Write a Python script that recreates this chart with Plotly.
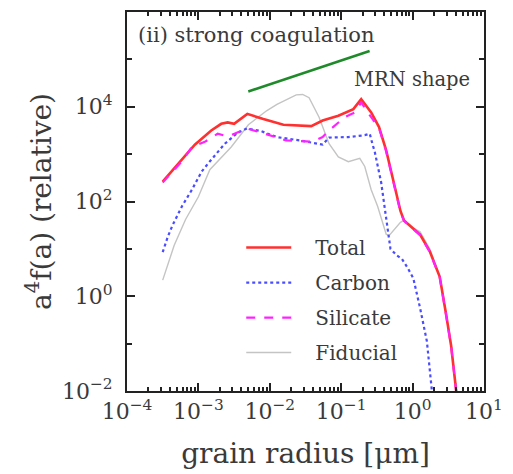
import numpy as np
import plotly.graph_objects as go

# log10 of grain radius [um] and log10 of a^4 f(a) for each population
total_logr = [-3.50, -3.23, -3.05, -2.82, -2.68, -2.59, -2.50, -2.315, -2.09, -1.81,
              -1.42, -1.26, -1.04, -0.83, -0.72, -0.58, -0.47, -0.37, -0.26, -0.17,
              -0.12, 0.0, 0.105, 0.24, 0.38, 0.47, 0.54, 0.61, 0.63]
total_logv = [2.42, 2.88, 3.20, 3.50, 3.64, 3.67, 3.64, 3.85, 3.74, 3.62,
              3.59, 3.71, 3.81, 3.95, 4.16, 3.88, 3.57, 3.08, 2.39, 1.80,
              1.60, 1.43, 1.30, 0.95, 0.41, -0.39, -1.05, -1.99, -2.30]

carbon_logr = [-3.50, -3.43, -3.365, -3.23, -3.09, -2.955, -2.86, -2.63, -2.45, -2.32,
               -2.13, -1.90, -1.585, -1.36, -1.26, -1.17, -0.90, -0.67, -0.60, -0.56,
               -0.53, -0.44, -0.35, -0.31, -0.22, -0.15, -0.07, 0.01, 0.105, 0.20,
               0.265, 0.29]
carbon_logv = [0.93, 1.25, 1.49, 1.90, 2.25, 2.63, 2.81, 3.22, 3.45, 3.54,
               3.49, 3.36, 3.29, 3.22, 3.20, 3.35, 3.36, 3.40, 3.43, 3.20,
               3.05, 2.40, 1.50, 1.00, 0.86, 0.79, 0.60, 0.38, -0.25, -0.95,
               -1.92, -2.30]

silicate_logr = [-3.50, -3.23, -3.09, -2.91, -2.73, -2.60, -2.54, -2.45, -2.32, -2.09,
                 -1.77, -1.40, -1.26, -1.17, -0.95, -0.81, -0.72, -0.58, -0.47, -0.37,
                 -0.26, -0.17, -0.12, 0.0, 0.105, 0.24, 0.38, 0.47, 0.54, 0.61, 0.63]
silicate_logv = [2.40, 2.85, 3.15, 3.26, 3.43, 3.38, 3.40, 3.46, 3.54, 3.44,
                 3.29, 3.26, 3.36, 3.50, 3.78, 3.88, 4.09, 3.78, 3.55, 3.06,
                 2.36, 1.78, 1.59, 1.42, 1.29, 0.94, 0.40, -0.40, -1.06, -2.00, -2.31]

fiducial_logr = [-3.50, -3.42, -3.34, -3.18, -3.00, -2.84, -2.54, -2.30, -2.04, -1.90,
                 -1.63, -1.54, -1.45, -1.31, -1.17, -1.04, -0.90, -0.74, -0.67, -0.58,
                 -0.49, -0.37, -0.33, -0.17, -0.12, 0.0, 0.105, 0.24, 0.38, 0.47,
                 0.54, 0.61, 0.63]
fiducial_logv = [0.34, 0.70, 1.07, 1.62, 2.10, 2.67, 3.15, 3.62, 3.92, 4.05,
                 4.25, 4.26, 4.19, 3.78, 3.22, 2.94, 2.84, 2.91, 2.74, 2.25,
                 1.90, 1.31, 1.28, 1.56, 1.60, 1.45, 1.36, 1.00, 0.42, -0.38,
                 -1.05, -1.98, -2.30]

# MRN power-law reference segment (a^4 * a^-3.5)
mrn_radius = [0.005, 0.25]
mrn_value = [2.1e4, 1.5e5]

x_tickvals = [1e-4, 1e-3, 1e-2, 1e-1, 1e0, 1e1]
x_ticktext = ["10<sup>−4</sup>", "10<sup>−3</sup>", "10<sup>−2</sup>",
              "10<sup>−1</sup>", "10<sup>0</sup>", "10<sup>1</sup>"]
y_tickvals = [1e-2, 1e0, 1e2, 1e4, 1e6]
y_ticktext = ["10<sup>−2</sup>", "10<sup>0</sup>", "10<sup>2</sup>",
              "10<sup>4</sup>", "10<sup>6</sup>"]

FONT = "DejaVu Serif"
TEXT = "#3a3a3a"
PAD = "\u00a0\u00a0\u00a0"


def pw(v):
    return np.power(10.0, np.asarray(v))


fig = go.Figure()

fig.add_trace(go.Scatter(x=pw(fiducial_logr), y=pw(fiducial_logv), mode="lines",
                         name=PAD + "Fiducial", legendgroup="d", legendrank=4,
                         line=dict(color="#c4c4c4", width=1.4)))
fig.add_trace(go.Scatter(x=pw(carbon_logr), y=pw(carbon_logv), mode="lines",
                         name=PAD + "Carbon", legendgroup="b", legendrank=2,
                         line=dict(color="#4a4cff", width=2.2, dash="dot")))
fig.add_trace(go.Scatter(x=pw(total_logr), y=pw(total_logv), mode="lines",
                         name=PAD + "Total", legendgroup="a", legendrank=1,
                         line=dict(color="#ff3030", width=2.6)))
fig.add_trace(go.Scatter(x=pw(silicate_logr), y=pw(silicate_logv), mode="lines",
                         name=PAD + "Silicate", legendgroup="c", legendrank=3,
                         line=dict(color="#ff22ff", width=2.2, dash="dash")))
fig.add_trace(go.Scatter(x=mrn_radius, y=mrn_value, mode="lines",
                         showlegend=False,
                         line=dict(color="#1f8a2a", width=2.6)))

axis_common = dict(
    type="log", showline=True, linecolor="#222", linewidth=2, mirror="allticks",
    ticks="inside", ticklen=8, tickwidth=2, tickcolor="#222",
    showgrid=False, zeroline=False, tickmode="array",
    tickfont=dict(family=FONT, size=22, color=TEXT),
)

fig.update_xaxes(
    **axis_common, range=[-4, 1], tickvals=x_tickvals, ticktext=x_ticktext,
    minor=dict(ticks="inside", ticklen=4, tickwidth=1.5, tickcolor="#222",
               dtick="D1", showgrid=False),
    title=dict(text="grain radius [μm]", font=dict(family=FONT, size=28, color=TEXT),
               standoff=20),
)
fig.update_yaxes(
    **axis_common, range=[-2, 6], tickvals=y_tickvals, ticktext=y_ticktext,
    ticklabelstandoff=8,
    minor=dict(ticks="inside", ticklen=5, tickwidth=1.5, tickcolor="#222",
               dtick=1, showgrid=False),
    title=dict(text="a<sup>4</sup>f(a) (relative)",
               font=dict(family=FONT, size=28, color=TEXT), standoff=2),
)

fig.add_annotation(text="(ii) strong coagulation", xref="paper", yref="paper",
                   x=0.025, y=0.94, xanchor="left", yanchor="middle", showarrow=False,
                   font=dict(family=FONT, size=21, color=TEXT))
fig.add_annotation(text="MRN shape", xref="paper", yref="paper",
                   x=0.63, y=0.823, xanchor="left", yanchor="middle", showarrow=False,
                   font=dict(family=FONT, size=19.5, color=TEXT))

fig.update_layout(
    width=513, height=474,
    margin=dict(l=127, r=22, t=10, b=79),
    paper_bgcolor="white", plot_bgcolor="white",
    showlegend=True,
    legend=dict(x=0.32, y=0.43, xanchor="left", yanchor="top",
                bgcolor="rgba(0,0,0,0)", itemwidth=45, tracegroupgap=6,
                font=dict(family=FONT, size=20, color=TEXT)),
)

fig.write_html("out.html")
